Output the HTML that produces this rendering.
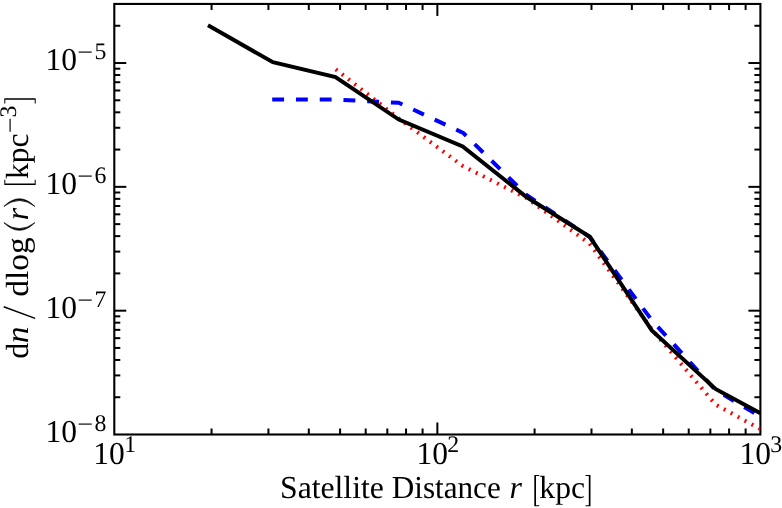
<!DOCTYPE html>
<html><head><meta charset="utf-8"><title>chart</title>
<style>
html,body{margin:0;padding:0;background:#fff;}
body{width:782px;height:508px;overflow:hidden;position:relative;font-family:"Liberation Serif",serif;}
svg{will-change:transform;position:absolute;left:0;top:0;}
text{font-family:"Liberation Serif",serif;fill:#000;text-rendering:geometricPrecision;}
</style></head><body>
<svg width="782" height="508" viewBox="0 0 782 508">
<rect x="0" y="0" width="782" height="508" fill="#fff"/>
<g stroke="#000" stroke-width="2"><line x1="211.55" y1="434.50" x2="211.55" y2="428.50"/><line x1="211.55" y1="3.95" x2="211.55" y2="9.95"/><line x1="268.43" y1="434.50" x2="268.43" y2="428.50"/><line x1="268.43" y1="3.95" x2="268.43" y2="9.95"/><line x1="308.80" y1="434.50" x2="308.80" y2="428.50"/><line x1="308.80" y1="3.95" x2="308.80" y2="9.95"/><line x1="340.10" y1="434.50" x2="340.10" y2="428.50"/><line x1="340.10" y1="3.95" x2="340.10" y2="9.95"/><line x1="365.68" y1="434.50" x2="365.68" y2="428.50"/><line x1="365.68" y1="3.95" x2="365.68" y2="9.95"/><line x1="387.31" y1="434.50" x2="387.31" y2="428.50"/><line x1="387.31" y1="3.95" x2="387.31" y2="9.95"/><line x1="406.04" y1="434.50" x2="406.04" y2="428.50"/><line x1="406.04" y1="3.95" x2="406.04" y2="9.95"/><line x1="422.57" y1="434.50" x2="422.57" y2="428.50"/><line x1="422.57" y1="3.95" x2="422.57" y2="9.95"/><line x1="437.35" y1="434.50" x2="437.35" y2="422.50"/><line x1="437.35" y1="3.95" x2="437.35" y2="15.95"/><line x1="534.60" y1="434.50" x2="534.60" y2="428.50"/><line x1="534.60" y1="3.95" x2="534.60" y2="9.95"/><line x1="591.48" y1="434.50" x2="591.48" y2="428.50"/><line x1="591.48" y1="3.95" x2="591.48" y2="9.95"/><line x1="631.85" y1="434.50" x2="631.85" y2="428.50"/><line x1="631.85" y1="3.95" x2="631.85" y2="9.95"/><line x1="663.15" y1="434.50" x2="663.15" y2="428.50"/><line x1="663.15" y1="3.95" x2="663.15" y2="9.95"/><line x1="688.73" y1="434.50" x2="688.73" y2="428.50"/><line x1="688.73" y1="3.95" x2="688.73" y2="9.95"/><line x1="710.36" y1="434.50" x2="710.36" y2="428.50"/><line x1="710.36" y1="3.95" x2="710.36" y2="9.95"/><line x1="729.09" y1="434.50" x2="729.09" y2="428.50"/><line x1="729.09" y1="3.95" x2="729.09" y2="9.95"/><line x1="745.62" y1="434.50" x2="745.62" y2="428.50"/><line x1="745.62" y1="3.95" x2="745.62" y2="9.95"/><line x1="114.30" y1="397.23" x2="120.30" y2="397.23"/><line x1="760.40" y1="397.23" x2="754.40" y2="397.23"/><line x1="114.30" y1="375.42" x2="120.30" y2="375.42"/><line x1="760.40" y1="375.42" x2="754.40" y2="375.42"/><line x1="114.30" y1="359.95" x2="120.30" y2="359.95"/><line x1="760.40" y1="359.95" x2="754.40" y2="359.95"/><line x1="114.30" y1="347.95" x2="120.30" y2="347.95"/><line x1="760.40" y1="347.95" x2="754.40" y2="347.95"/><line x1="114.30" y1="338.15" x2="120.30" y2="338.15"/><line x1="760.40" y1="338.15" x2="754.40" y2="338.15"/><line x1="114.30" y1="329.86" x2="120.30" y2="329.86"/><line x1="760.40" y1="329.86" x2="754.40" y2="329.86"/><line x1="114.30" y1="322.68" x2="120.30" y2="322.68"/><line x1="760.40" y1="322.68" x2="754.40" y2="322.68"/><line x1="114.30" y1="316.34" x2="120.30" y2="316.34"/><line x1="760.40" y1="316.34" x2="754.40" y2="316.34"/><line x1="114.30" y1="310.68" x2="126.30" y2="310.68"/><line x1="760.40" y1="310.68" x2="748.40" y2="310.68"/><line x1="114.30" y1="273.40" x2="120.30" y2="273.40"/><line x1="760.40" y1="273.40" x2="754.40" y2="273.40"/><line x1="114.30" y1="251.60" x2="120.30" y2="251.60"/><line x1="760.40" y1="251.60" x2="754.40" y2="251.60"/><line x1="114.30" y1="236.13" x2="120.30" y2="236.13"/><line x1="760.40" y1="236.13" x2="754.40" y2="236.13"/><line x1="114.30" y1="224.13" x2="120.30" y2="224.13"/><line x1="760.40" y1="224.13" x2="754.40" y2="224.13"/><line x1="114.30" y1="214.32" x2="120.30" y2="214.32"/><line x1="760.40" y1="214.32" x2="754.40" y2="214.32"/><line x1="114.30" y1="206.03" x2="120.30" y2="206.03"/><line x1="760.40" y1="206.03" x2="754.40" y2="206.03"/><line x1="114.30" y1="198.85" x2="120.30" y2="198.85"/><line x1="760.40" y1="198.85" x2="754.40" y2="198.85"/><line x1="114.30" y1="192.52" x2="120.30" y2="192.52"/><line x1="760.40" y1="192.52" x2="754.40" y2="192.52"/><line x1="114.30" y1="186.85" x2="126.30" y2="186.85"/><line x1="760.40" y1="186.85" x2="748.40" y2="186.85"/><line x1="114.30" y1="149.58" x2="120.30" y2="149.58"/><line x1="760.40" y1="149.58" x2="754.40" y2="149.58"/><line x1="114.30" y1="127.77" x2="120.30" y2="127.77"/><line x1="760.40" y1="127.77" x2="754.40" y2="127.77"/><line x1="114.30" y1="112.30" x2="120.30" y2="112.30"/><line x1="760.40" y1="112.30" x2="754.40" y2="112.30"/><line x1="114.30" y1="100.30" x2="120.30" y2="100.30"/><line x1="760.40" y1="100.30" x2="754.40" y2="100.30"/><line x1="114.30" y1="90.50" x2="120.30" y2="90.50"/><line x1="760.40" y1="90.50" x2="754.40" y2="90.50"/><line x1="114.30" y1="82.21" x2="120.30" y2="82.21"/><line x1="760.40" y1="82.21" x2="754.40" y2="82.21"/><line x1="114.30" y1="75.03" x2="120.30" y2="75.03"/><line x1="760.40" y1="75.03" x2="754.40" y2="75.03"/><line x1="114.30" y1="68.69" x2="120.30" y2="68.69"/><line x1="760.40" y1="68.69" x2="754.40" y2="68.69"/><line x1="114.30" y1="63.03" x2="126.30" y2="63.03"/><line x1="760.40" y1="63.03" x2="748.40" y2="63.03"/><line x1="114.30" y1="25.75" x2="120.30" y2="25.75"/><line x1="760.40" y1="25.75" x2="754.40" y2="25.75"/></g>
<rect x="114.30" y="3.95" width="646.10" height="430.55" fill="none" stroke="#000" stroke-width="2.1"/>
<clipPath id="c"><rect x="114.30" y="3.95" width="646.10" height="430.55"/></clipPath>
<g fill="none" stroke-linejoin="round" clip-path="url(#c)">
<polyline points="335.7,69.3 398.8,118.5 462.5,165.8 526.5,198.0 589.6,243.6 652.0,329.5 715.5,404.5 760.4,429.1" stroke="#ff0000" stroke-width="4" stroke-dasharray="1.98 5.94"/>
<polyline points="272.2,99.4 335.5,99.5 398.8,102.8 463.3,133.0 526.5,195.0 589.8,237.0 652.0,320.5 715.5,390.0 760.4,416.5" stroke="#0000ff" stroke-width="4" stroke-dasharray="11.88 11.88"/>
<polyline points="208.0,25.3 272.9,62.2 335.5,77.0 398.8,119.6 462.7,146.5 526.5,197.0 589.8,236.8 651.8,330.4 715.5,388.9 760.4,413.3" stroke="#000" stroke-width="4" stroke-linejoin="miter"/>
</g>
<g><text transform="translate(45.44,70.43) scale(0.9850,1)" font-size="32">10</text><text transform="translate(77.22,60.13) scale(1.1800,1)" font-size="23.8">−</text><text transform="translate(94.60,59.13) scale(1.0000,1)" font-size="23.8">5</text><text transform="translate(45.44,194.25) scale(0.9850,1)" font-size="32">10</text><text transform="translate(77.22,183.95) scale(1.1800,1)" font-size="23.8">−</text><text transform="translate(94.60,182.95) scale(1.0000,1)" font-size="23.8">6</text><text transform="translate(45.44,318.08) scale(0.9850,1)" font-size="32">10</text><text transform="translate(77.22,307.78) scale(1.1800,1)" font-size="23.8">−</text><text transform="translate(94.60,306.78) scale(1.0000,1)" font-size="23.8">7</text><text transform="translate(45.44,441.90) scale(0.9850,1)" font-size="32">10</text><text transform="translate(77.22,431.60) scale(1.1800,1)" font-size="23.8">−</text><text transform="translate(94.60,430.60) scale(1.0000,1)" font-size="23.8">8</text><text transform="translate(93.34,464.30) scale(0.9850,1)" font-size="32">10</text><text transform="translate(124.20,452.00) scale(1.0000,1)" font-size="23.8">1</text><text transform="translate(416.39,464.30) scale(0.9850,1)" font-size="32">10</text><text transform="translate(447.25,452.00) scale(1.0000,1)" font-size="23.8">2</text><text transform="translate(739.44,464.30) scale(0.9850,1)" font-size="32">10</text><text transform="translate(770.30,452.00) scale(1.0000,1)" font-size="23.8">3</text></g>
<g transform="translate(0,498.1)"><text transform="translate(280.02,0.00) scale(0.9900,1)" font-size="32">Satellite</text><text transform="translate(391.83,0.00) scale(0.9730,1)" font-size="32">Distance</text><text transform="translate(509.50,0.00) scale(1.0000,1)" font-size="32" font-style="italic">r</text><path d="M534.30 -23.20 H539.20 V-22.10 H536.00 V7.10 H539.20 V8.20 H534.30 Z"/><text transform="translate(539.30,0.00) scale(0.9900,1)" font-size="32">kpc</text><path d="M590.50 -23.20 H585.60 V-22.10 H588.80 V7.10 H585.60 V8.20 H590.50 Z"/></g>
<g transform="translate(27.5,358) rotate(-90)"><text transform="translate(-0.70,0.00) scale(1.0000,1)" font-size="32">d</text><text transform="translate(14.67,0.00) scale(1.0500,1)" font-size="32" font-style="italic">n</text><line x1="39.6" y1="7.6" x2="51.3" y2="-23.8" stroke="#000" stroke-width="1.5"/><text transform="translate(61.30,0.00) scale(1.0460,1)" font-size="32">dlog</text><path stroke="#000" stroke-width="0.7" stroke-linejoin="round" d="M135.30 -23.60 Q120.10 -8.10 135.30 7.40 Q123.50 -8.10 135.30 -23.60 Z"/><text transform="translate(137.80,0.00) scale(1.0000,1)" font-size="32" font-style="italic">r</text><path stroke="#000" stroke-width="0.7" stroke-linejoin="round" d="M151.60 -23.60 Q166.80 -8.10 151.60 7.40 Q163.40 -8.10 151.60 -23.60 Z"/><path d="M173.10 -23.20 H178.30 V-22.20 H174.60 V7.20 H178.30 V8.20 H173.10 Z"/><text transform="translate(178.90,0.00) scale(0.9850,1)" font-size="32">kpc</text><text transform="translate(224.72,-9.30) scale(1.1800,1)" font-size="23.8">−</text><text transform="translate(240.60,-11.30) scale(1.0000,1)" font-size="23.8">3</text><path d="M259.70 -23.20 H254.50 V-22.20 H258.20 V7.20 H254.50 V8.20 H259.70 Z"/></g>
</svg>
</body></html>
